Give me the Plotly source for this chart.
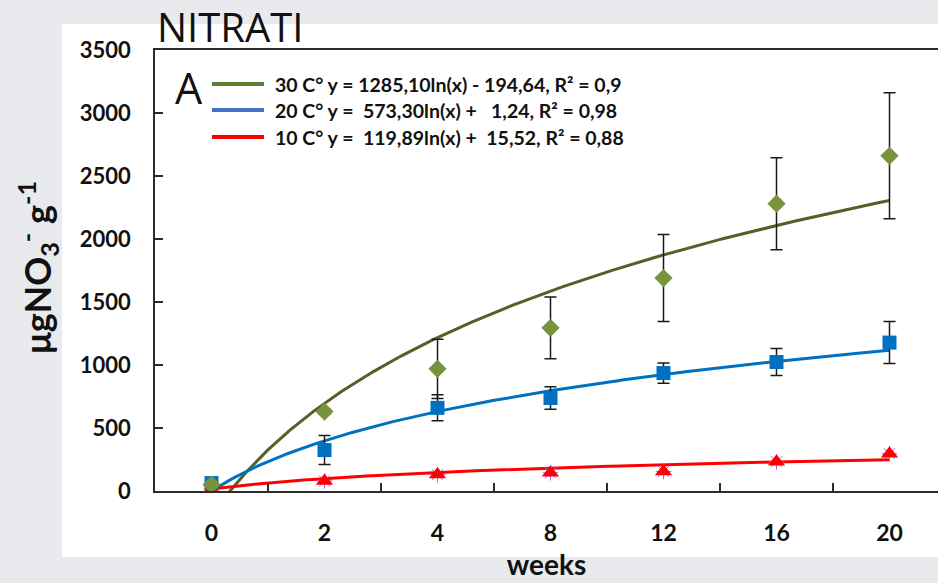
import numpy as np
import plotly.graph_objects as go

# Sampling weeks (plotted as equally spaced categories 1..7)
weeks = ["0", "2", "4", "8", "12", "16", "20"]
pos = [1, 2, 3, 4, 5, 6, 7]

# Nitrate concentration (µg NO3- per g) at three temperatures
n30 = [50, 630, 970, 1295, 1690, 2280, 2660]
n30_err = [0, 20, 235, 245, 345, 365, 500]
n20 = [63, 325, 660, 738, 936, 1024, 1178]
n20_err = [0, 115, 103, 90, 80, 107, 167]
n10 = [15, 80, 130, 145, 155, 232, 296]

# Logarithmic trendlines y = a*ln(x) + b
temps = ["30 C°", "20 C°", "10 C°"]
fit_a = [1285.10, 573.30, 119.89]
fit_b = [-194.64, 1.24, 15.52]
fit_r2 = [0.9, 0.98, 0.88]

line_colors = ["#4f6228", "#0070c0", "#ff0000"]
legend_colors = ["#5b7f34", "#4472c4", "#ff0000"]

W, H = 938, 583
L, R, T, B = 155, 0, 50, 92
PW, PH = W - L - R, H - T - B


def px(x):
    return (x - L) / PW


def py(y):
    return (H - B - y) / PH


def num(v):
    return f"{abs(v):.2f}".replace(".", ",")


fig = go.Figure()

xs = np.linspace(1, 7, 300)
for a, b, c in zip(fit_a, fit_b, line_colors):
    fig.add_trace(go.Scatter(x=xs, y=a * np.log(xs) + b, mode="lines",
                             line=dict(color=c, width=3), hoverinfo="skip",
                             showlegend=False))

# purple star markers sitting behind the red triangles
fig.add_trace(go.Scatter(x=pos, y=n10, mode="markers", showlegend=False,
                         marker=dict(symbol="asterisk-open", size=13,
                                     line=dict(color="#8a7cc0", width=1))))
fig.add_trace(go.Scatter(x=pos, y=n10, mode="markers", showlegend=False,
                         marker=dict(symbol="triangle-up", size=15, color="#ff0000")))
fig.add_trace(go.Scatter(x=pos, y=n20, mode="markers", showlegend=False,
                         marker=dict(symbol="square", size=14, color="#0070c0"),
                         error_y=dict(type="data", array=n20_err, color="#1a1a1a",
                                      thickness=1.5, width=6)))
fig.add_trace(go.Scatter(x=pos, y=n30, mode="markers", showlegend=False,
                         marker=dict(symbol="diamond", size=14, color="#77933c"),
                         error_y=dict(type="data", array=n30_err, color="#1a1a1a",
                                      thickness=1.5, width=6)))

shapes = [dict(type="rect", xref="paper", yref="paper", layer="below",
               x0=px(62), x1=px(W + 5), y0=py(557), y1=py(24),
               fillcolor="white", line=dict(width=0))]
annotations = []

# trendline key
rows_y = [84, 110, 137]
for t, a, b, r2, c, yy in zip(temps, fit_a, fit_b, fit_r2, legend_colors, rows_y):
    shapes.append(dict(type="line", xref="paper", yref="paper",
                       x0=px(212), x1=px(264), y0=py(yy), y1=py(yy),
                       line=dict(color=c, width=4)))
    a_txt = num(a).rjust(7, "\u00a0")
    sign = "-" if b < 0 else "+"
    b_txt = num(b).rjust(6, "\u00a0")
    r_txt = str(r2).replace(".", ",")
    txt = f"{t} y =\u00a0{a_txt}ln(x)\u00a0{sign}\u00a0{b_txt}, R² = {r_txt}"
    annotations.append(dict(x=px(273), y=py(yy), xref="paper", yref="paper",
                            xanchor="left", yanchor="middle", showarrow=False,
                            text=txt,
                            font=dict(family="Lato", size=19.5,
                                      color="#111111", weight="bold")))

annotations.append(dict(x=px(188.5), y=py(88), xref="paper", yref="paper",
                        xanchor="center", yanchor="middle", showarrow=False, text="A",
                        font=dict(family="Open Sans", size=43, color="#111111")))
annotations.append(dict(x=px(155), y=py(26), xref="paper", yref="paper",
                        xanchor="left", yanchor="middle", showarrow=False,
                        height=44, valign="middle",
                        text="NITRATI",
                        font=dict(family="Open Sans", size=40, color="#111111")))
annotations.append(dict(x=px(37), y=py(268), xref="paper", yref="paper",
                        xanchor="center", yanchor="middle",
                        textangle=-90, showarrow=False,
                        text="μgNO<sub>3</sub><sup>-</sup> g<sup>-1</sup>",
                        font=dict(family="Lato", size=36, color="#111111", weight="bold")))

fig.update_layout(
    width=W, height=H,
    margin=dict(l=L, r=R, t=T, b=B),
    paper_bgcolor="#e8eaed",
    plot_bgcolor="white",
    shapes=shapes,
    annotations=annotations,
    xaxis=dict(range=[0.5, 0.5 + PW / 113.0], tickvals=pos, ticktext=weeks,
               ticks="", showgrid=False, zeroline=False,
               showline=True, linecolor="#2b2b2b", linewidth=1.5, mirror=True,
               ticklabelstandoff=21,
               tickfont=dict(family="Lato", size=23, color="#111111", weight="bold"),
               minor=dict(tickvals=[1.5, 2.5, 3.5, 4.5, 5.5, 6.5], ticks="inside",
                          ticklen=8, tickwidth=1.5, tickcolor="#2b2b2b", showgrid=False),
               title=dict(text="weeks", standoff=10,
                          font=dict(family="Lato", size=28, color="#111111", weight="bold"))),
    yaxis=dict(range=[0, 3500], dtick=500, ticks="inside", ticklen=8, tickwidth=1.5,
               tickcolor="#2b2b2b", showgrid=False, zeroline=False,
               showline=True, linecolor="#2b2b2b", linewidth=1.5,
               ticklabelstandoff=18,
               tickfont=dict(family="Lato", size=22, color="#111111", weight="bold")),
)

fig.write_html("out.html")
